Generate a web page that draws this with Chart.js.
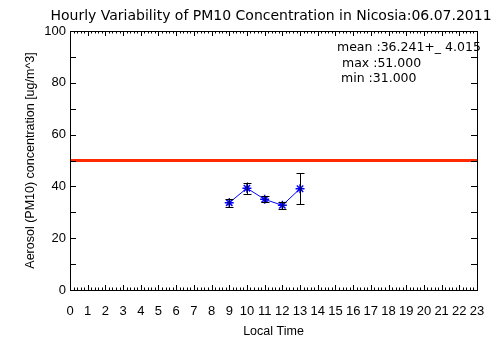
<!DOCTYPE html>
<html>
<head>
<meta charset="utf-8">
<script src="https://cdn.jsdelivr.net/npm/chart.js@4/dist/chart.umd.min.js"></script>
<style>
  html, body { margin: 0; padding: 0; background: #fff; }
  #wrap { width: 504px; height: 361px; }
</style>
</head>
<body>
<div id="wrap"><canvas id="pmChart" width="504" height="361"></canvas></div>
<script>
// 시간별 PM10 평균과 표준편차
const hours = [9, 10, 11, 12, 13];
const pm10Mean = [33.7, 39.3, 35.0, 32.7, 39.1];
const pm10Err = [1.6, 2.2, 1.2, 1.4, 5.9];

// 기준선 (EU 한계값)
const limitValue = 50;

// 축 눈금
const xTickLabels = [0, 1, 2, 3, 4, 5, 6, 7, 8, 9, 10, 11, 12, 13, 14, 15, 16, 17, 18, 19, 20, 21, 22, 23];
const yTickLabels = [0, 20, 40, 60, 80, 100];
const yMajorTicks = [0, 10, 20, 30, 40, 50, 60, 70, 80, 90, 100];

const titleText = "Hourly Variability of PM10 Concentration in Nicosia:06.07.2011";
const statLines = ["mean :36.241+_ 4.015", "max :51.000", "min :31.000"];

const FONT = "'Liberation Sans', Arial, sans-serif";
const WIDE_FONT = "'DejaVu Sans', sans-serif";

// 에러바 그리기
const errorBarPlugin = {
    id: "errorBars",
    afterDatasetsDraw(chart) {
        const { ctx, scales: { x, y } } = chart;
        ctx.save();
        ctx.strokeStyle = "#000";
        ctx.lineWidth = 1;
        hours.forEach((h, i) => {
            const px = Math.round(x.getPixelForValue(h)) + 0.5;
            const top = y.getPixelForValue(pm10Mean[i] + pm10Err[i]);
            const bot = y.getPixelForValue(pm10Mean[i] - pm10Err[i]);
            ctx.beginPath();
            ctx.moveTo(px, top); ctx.lineTo(px, bot);
            ctx.moveTo(px - 4, Math.round(top) + 0.5); ctx.lineTo(px + 4, Math.round(top) + 0.5);
            ctx.moveTo(px - 4, Math.round(bot) + 0.5); ctx.lineTo(px + 4, Math.round(bot) + 0.5);
            ctx.stroke();
        });
        ctx.restore();
    }
};

// IDL 스타일 축 테두리와 안쪽 눈금
const frameTicksPlugin = {
    id: "frameTicks",
    afterDraw(chart) {
        const { ctx, chartArea: a, scales: { x, y } } = chart;
        ctx.save();
        ctx.strokeStyle = "#000";
        ctx.lineWidth = 1;
        ctx.strokeRect(Math.round(a.left) + 0.5, Math.round(a.top) + 0.5,
            Math.round(a.right - a.left), Math.round(a.bottom - a.top));
        ctx.beginPath();
        // x축 눈금 (주: 1시간, 보조: 0.2시간)
        for (let v = xTickLabels[0]; v <= xTickLabels[xTickLabels.length - 1] + 1e-6; v += 0.2) {
            const px = Math.round(x.getPixelForValue(v)) + 0.5;
            const major = Math.abs(v - Math.round(v)) < 1e-6;
            const len = major ? 5 : 2.5;
            ctx.moveTo(px, a.bottom); ctx.lineTo(px, a.bottom - len);
            ctx.moveTo(px, a.top); ctx.lineTo(px, a.top + len);
        }
        // y축 눈금
        yMajorTicks.forEach(v => {
            const py = Math.round(y.getPixelForValue(v)) + 0.5;
            ctx.moveTo(a.left, py); ctx.lineTo(a.left + 6, py);
            ctx.moveTo(a.right, py); ctx.lineTo(a.right - 6, py);
        });
        ctx.stroke();

        // 제목과 통계 문구
        ctx.fillStyle = "#000";
        ctx.textBaseline = "middle";
        ctx.textAlign = "center";
        ctx.font = "14px " + WIDE_FONT;
        ctx.fillText(titleText, 271, 16);
        ctx.textAlign = "left";
        ctx.font = "12.5px " + WIDE_FONT;
        ctx.fillText(statLines[0], 337, 48);
        ctx.fillText(statLines[1], 342, 64);
        ctx.fillText(statLines[2], 341, 79);
        ctx.restore();
    }
};

const ctx = document.getElementById("pmChart").getContext("2d");
new Chart(ctx, {
    type: "line",
    data: {
        datasets: [
            {
                label: "limit",
                data: [
                    { x: xTickLabels[0], y: limitValue },
                    { x: xTickLabels[xTickLabels.length - 1], y: limitValue }
                ],
                borderColor: "#ff2a00",
                borderWidth: 3,
                pointRadius: 0,
                order: 2
            },
            {
                label: "PM10",
                data: hours.map((h, i) => ({ x: h, y: pm10Mean[i] })),
                borderColor: "#0000ff",
                borderWidth: 1,
                pointStyle: "star",
                pointRadius: 4.5,
                pointBorderColor: "#0000ff",
                pointBorderWidth: 1.5,
                order: 1
            }
        ]
    },
    options: {
        responsive: false,
        animation: false,
        layout: { padding: { top: 31, right: 27, left: 0, bottom: 0 } },
        plugins: {
            legend: { display: false },
            tooltip: { enabled: false },
            title: { display: false }
        },
        scales: {
            x: {
                type: "linear",
                min: xTickLabels[0],
                max: xTickLabels[xTickLabels.length - 1],
                afterBuildTicks: s => { s.ticks = xTickLabels.map(v => ({ value: v })); },
                afterFit: s => { s.height = 71; },
                grid: { display: false, drawTicks: false },
                border: { display: false },
                ticks: {
                    autoSkip: false, maxRotation: 0, padding: 14,
                    color: "#000", font: { family: FONT, size: 13 }
                },
                title: {
                    display: true, text: "Local Time", color: "#000",
                    font: { family: FONT, size: 12.5 }, padding: { top: 0, bottom: 22 }
                }
            },
            y: {
                min: yTickLabels[0],
                max: yTickLabels[yTickLabels.length - 1],
                afterBuildTicks: s => { s.ticks = yTickLabels.map(v => ({ value: v })); },
                afterFit: s => { s.width = 70; },
                grid: { display: false, drawTicks: false },
                border: { display: false },
                ticks: {
                    padding: 4, color: "#000", font: { family: FONT, size: 13 }
                },
                title: {
                    display: true, text: "Aerosol (PM10) concentration [ug/m^3]", color: "#000",
                    font: { family: FONT, size: 12.5 }, padding: { top: 23, bottom: 0 }
                }
            }
        }
    },
    plugins: [errorBarPlugin, frameTicksPlugin]
});
</script>
</body>
</html>
